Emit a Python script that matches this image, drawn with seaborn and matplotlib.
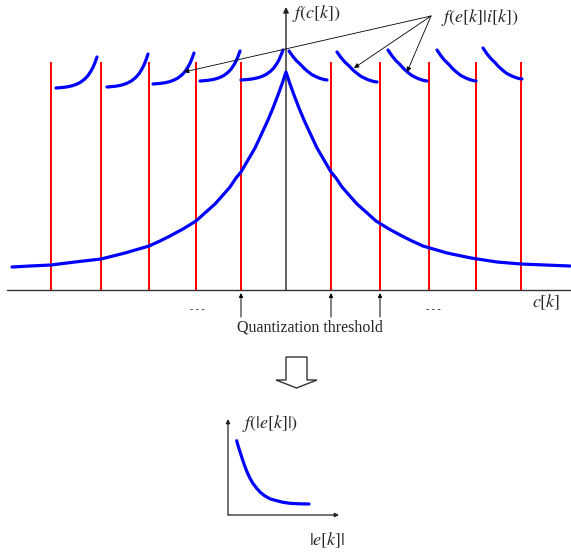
import numpy as np
import pandas as pd
import matplotlib.pyplot as plt
import seaborn as sns
from matplotlib.patches import Polygon

# main density f(c[k]) (pixel-like units, y grows downward)
main_x = [12, 30, 51, 75, 101, 125, 149, 160, 170, 183, 196, 206, 215, 223, 230, 236,
          241, 248, 255, 262, 268, 273, 278, 282, 286,
          290, 294, 299, 304, 310, 317, 324, 331, 336, 342, 349, 357, 366, 376, 389,
          402, 412, 423, 447, 471, 497, 521, 545, 570]
main_y = [267, 266, 265, 262, 259, 253, 246, 241, 236, 229, 221, 212, 204, 195, 187, 178,
          172, 160, 148, 133, 120, 108, 95, 84, 72,
          84, 95, 108, 120, 133, 148, 160, 172, 178, 187, 195, 204, 212, 221, 229,
          236, 241, 246, 253, 258, 262, 264, 265, 266]

# quantization thresholds (red lines)
thresholds = [51, 101, 149, 196, 241, 331, 380, 429, 476, 521]
thr_top = 62
axis_y = 290

# conditional densities f(e[k]|i[k]): start/end points of each piece
seg_x0 = [56, 107, 153, 200, 241, 289, 337, 388, 437, 483]
seg_x1 = [97, 148, 194, 240, 283, 327, 377, 427, 476, 522]
seg_y0 = [88, 87, 84, 81, 80, 51, 52, 50, 50, 48]
seg_y1 = [57, 54, 53, 51, 50, 80, 82, 81, 81, 79]
# shape of one piece (fraction along x, fraction of rise)
seg_u = [0, 0.1, 0.2, 0.3, 0.4, 0.5, 0.6, 0.7, 0.78, 0.85, 0.9, 0.95, 1.0]
seg_g = [0, 0.01, 0.023, 0.043, 0.074, 0.12, 0.187, 0.288, 0.40, 0.54, 0.66, 0.815, 1.0]

# small inset f(|e[k]|)
inset_x = [236.7, 238, 240, 242.5, 245, 247.5, 250, 253, 256.7, 260.5, 265, 270.5,
           276.7, 283, 290, 299, 309]
inset_y = [440.7, 445.5, 451.7, 459.5, 466.7, 473, 478.3, 483.5, 488.3, 492.5, 496, 499,
           500.7, 502.3, 503.3, 503.8, 504]

sns.set_style('white')
plt.rcParams['font.family'] = ['Liberation Serif', 'DejaVu Serif']
plt.rcParams['mathtext.fontset'] = 'stix'

fig = plt.figure(figsize=(5.71, 5.54), dpi=100)
ax = fig.add_axes([0, 0, 1, 1])
ax.set_xlim(0, 571)
ax.set_ylim(554, 0)
ax.axis('off')

blue = '#0000ff'
red = '#ff0000'
curve_kw = dict(color=blue, lw=2.3, solid_capstyle='round', solid_joinstyle='round')

# red threshold lines
ax.vlines(thresholds, thr_top, axis_y, color=red, lw=1.4, zorder=2)

# axes of the main plot
ax.plot([7, 571], [axis_y, axis_y], color='#333333', lw=1.0, zorder=1)
ax.annotate('', xy=(286, 7), xytext=(286, axis_y),
            arrowprops=dict(arrowstyle='-|>', color='#222222', lw=1.0,
                            mutation_scale=8, shrinkA=0, shrinkB=0), zorder=1)

# big density
sns.lineplot(x=main_x, y=main_y, sort=False, ax=ax, zorder=3, **curve_kw)

# conditional pieces
u = np.array(seg_u)
g = np.array(seg_g)
for i in range(len(seg_x0)):
    xs = seg_x0[i] + u * (seg_x1[i] - seg_x0[i])
    if seg_y0[i] > seg_y1[i]:
        # left side: flat first, steep near the centre
        ys = seg_y0[i] + g * (seg_y1[i] - seg_y0[i])
    else:
        # right side: steep first, flat later
        ys = seg_y1[i] + g[::-1] * (seg_y0[i] - seg_y1[i])
    df = pd.DataFrame({'x': xs, 'y': ys})
    sns.lineplot(data=df, x='x', y='y', sort=False, ax=ax, zorder=3, **curve_kw)

# labels
ax.text(292, 13, r'$f(c[k])$', fontsize=13, ha='left', va='center')
ax.text(441, 18, r'$f(e[k]|i[k])$', fontsize=13, ha='left', va='center')
ax.text(532, 302, r'$c[k]$', fontsize=13, ha='left', va='center')

for tx, ty in [(184, 72), (354, 68), (407, 72)]:
    ax.annotate('', xy=(tx, ty), xytext=(431, 16),
                arrowprops=dict(arrowstyle='-|>', color='black', lw=0.6,
                                mutation_scale=7, shrinkA=0, shrinkB=0))

ax.text(197, 309, '- - -', fontsize=7, ha='center', va='center')
ax.text(433, 309, '- - -', fontsize=7, ha='center', va='center')

for tx in [241, 331, 380]:
    ax.annotate('', xy=(tx, 293), xytext=(tx, 317),
                arrowprops=dict(arrowstyle='-|>', color='black', lw=0.7,
                                mutation_scale=6, shrinkA=0, shrinkB=0))
ax.text(310, 327, 'Quantization threshold', fontsize=11.5, ha='center', va='center')

# hollow down arrow
arrow_pts = [(286, 357), (307, 357), (307, 380), (317, 380), (296.5, 388),
             (276, 380), (286, 380)]
ax.add_patch(Polygon(arrow_pts, closed=True, facecolor='white',
                     edgecolor='#333333', lw=1.0))

# inset axes
ax.annotate('', xy=(228, 419), xytext=(228, 515),
            arrowprops=dict(arrowstyle='-|>', color='#222222', lw=0.9,
                            mutation_scale=6, shrinkA=0, shrinkB=0))
ax.annotate('', xy=(339, 515), xytext=(228, 515),
            arrowprops=dict(arrowstyle='-|>', color='#222222', lw=0.9,
                            mutation_scale=6, shrinkA=0, shrinkB=0))
sns.lineplot(x=inset_x, y=inset_y, sort=False, ax=ax, **curve_kw)
ax.text(242, 423, r'$f(|e[k]|)$', fontsize=13, ha='left', va='center')
ax.text(309, 540, r'$|e[k]|$', fontsize=13, ha='left', va='center')

fig.savefig('out.png', dpi=100)
